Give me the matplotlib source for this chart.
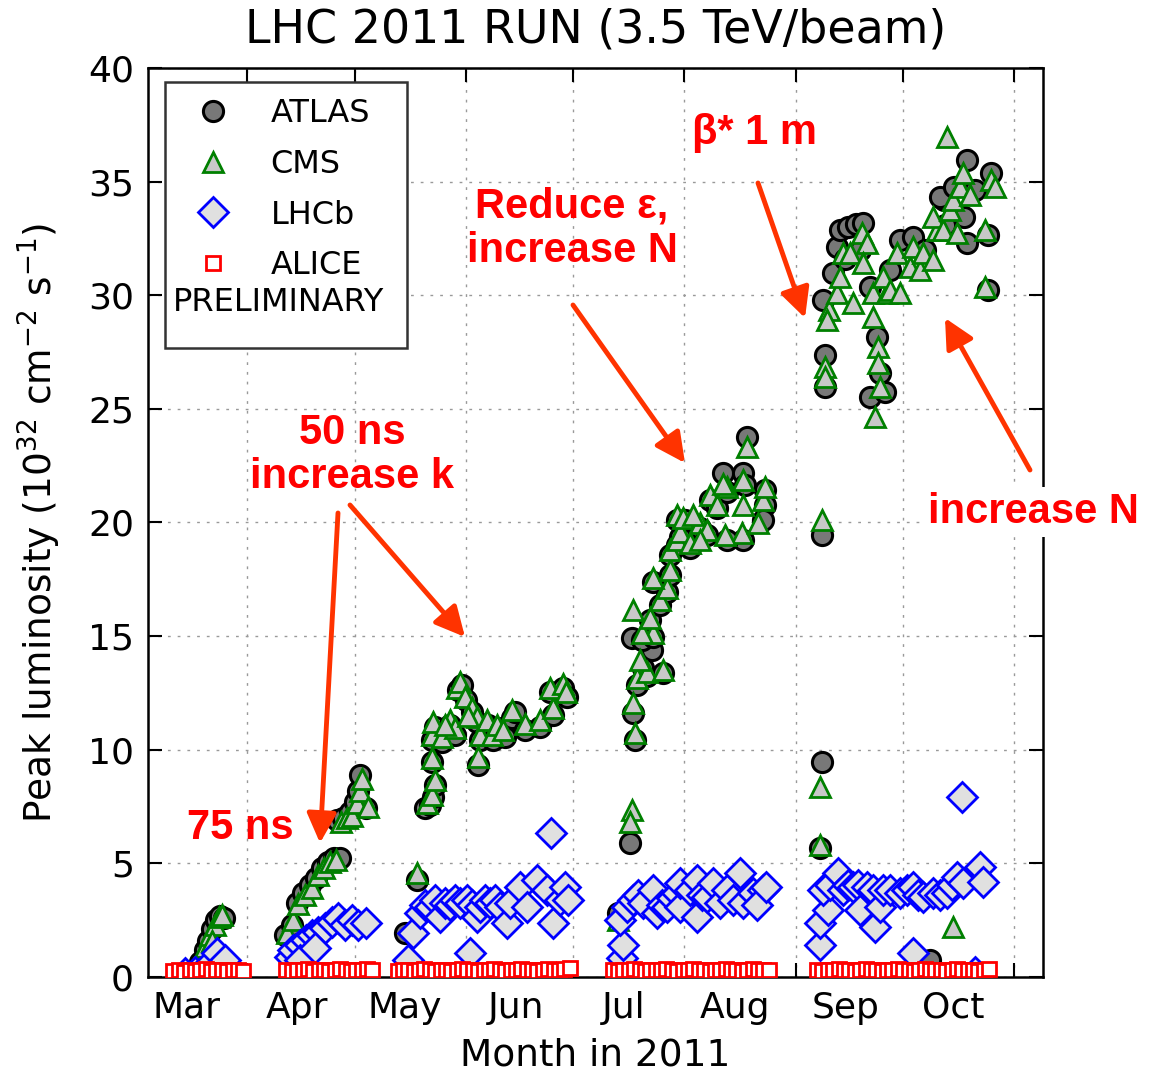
import matplotlib
matplotlib.use('Agg')
import matplotlib.pyplot as plt
from matplotlib.lines import Line2D

# ---------------- data (x = day of year 2011, y = peak luminosity 1e32) ----------
atlas_day = [
    77.9, 79.3, 80.1, 81.2, 82.4, 83.5, 84.6,
    101.6, 103.5, 104.9, 106.6, 108.6, 110.3, 112.0, 113.6, 115.3, 116.9, 116.1, 117.8, 119.7, 121.1, 122.0, 122.5, 124.2,
    135.1, 138.4, 140.6, 142.0, 142.9, 143.4, 142.6, 142.6, 143.4, 145.4, 147.6, 149.0, 149.9, 151.0, 152.1, 153.8,
    155.2, 156.0, 155.4, 158.2, 159.6, 161.0, 162.9, 164.9, 165.7, 168.6, 172.7, 176.4, 175.5, 179.2, 180.3,
    194.5, 197.8, 199.2, 198.6, 199.8, 202.6, 207.1, 201.5, 204.0, 198.3, 201.1, 204.3, 203.4, 206.2, 208.2, 204.3,
    209.0, 209.0, 210.9, 211.8, 210.9, 213.2, 214.6, 217.4, 219.3, 220.1, 222.1, 224.9, 223.8, 229.4, 229.9, 229.4,
    235.5, 235.5, 235.0, 230.5, 224.9,
    281.5, 251.4, 250.8, 251.4, 251.7, 252.3, 252.3, 254.5, 255.6, 256.4, 258.7, 260.9, 262.9, 264.8, 266.8, 267.6,
    264.8, 269.0, 273.2, 276.8, 285.5, 284.4, 288.3, 291.1, 291.9, 291.9, 293.9, 298.4, 297.6, 297.6, 257.8, 262.0,
    270.4, 280.1, 285.7]
atlas_lum = [
    0.66, 1.2, 1.6, 2.1, 2.5, 2.7, 2.6,
    1.85, 2.3, 3.25, 3.7, 4.05, 4.35, 4.8, 5.06, 5.24, 5.24, 6.9, 7.0, 7.26, 7.7, 8.2, 8.9, 7.44,
    1.94, 4.27, 7.44, 7.57, 7.9, 8.45, 9.46, 10.43, 11.0, 10.34, 11.1, 10.65, 12.63, 12.85, 12.19, 11.66,
    11.2, 10.43, 9.33, 11.1, 10.43, 10.96, 10.56, 11.4, 11.66, 10.87, 11.0, 11.53, 12.54, 12.72, 12.32,
    2.82, 5.9, 10.43, 11.62, 12.85, 13.25, 13.38, 13.6, 14.39, 14.92, 14.83, 14.96, 15.7, 16.37, 16.94, 17.38,
    17.69, 18.57, 19.0, 19.36, 20.11, 20.11, 18.88, 19.76, 19.45, 20.99, 20.64, 21.34, 22.18, 22.18, 21.65, 19.23,
    21.43, 20.77, 20.11, 23.76, 19.23,
    0.75, 9.46, 5.68, 19.45, 29.79, 27.37, 25.96, 30.98, 32.12, 32.87, 33.0, 33.14, 33.18, 30.36, 28.16, 26.58,
    25.52, 25.74, 32.43, 32.56, 34.19, 34.32, 34.76, 33.44, 32.3, 35.95, 34.63, 35.38, 32.65, 30.23, 31.6, 32.0,
    31.1, 32.0, 33.1]

cms_day = [
    79.3, 80.7, 82.1, 83.2, 84.0, 81.2,
    102.2, 103.8, 105.2, 107.2, 109.1, 110.8, 112.5, 114.2, 115.8, 117.2, 118.9, 120.3, 121.7, 122.5, 123.1, 124.8,
    138.4, 141.2, 142.6, 143.4, 142.6, 142.6, 142.9, 145.4, 147.6, 149.0,
    149.6, 150.4, 151.8, 153.8, 155.2, 156.0, 155.4, 157.9, 159.3, 160.7,
    162.4, 164.9, 168.6, 172.7, 176.4, 175.5, 179.2, 180.0, 152.6, 146.3,
    194.5, 198.3, 197.8, 199.2, 198.6, 199.8, 202.6, 207.1, 200.6, 204.3,
    201.3, 198.6, 203.4, 206.2, 208.2, 204.3, 209.0, 209.0, 210.9, 211.8,
    210.9, 212.6, 214.6, 217.4, 219.3, 220.1, 222.1, 224.9, 223.8, 229.4,
    229.4, 229.1, 234.9, 233.6, 235.5, 230.5, 224.3, 217.4, 215.4,
    250.8, 250.8, 251.4, 288.0, 253.2, 252.9, 252.3, 252.3, 255.6, 256.4,
    257.3, 259.2, 260.1, 262.6, 264.0, 262.9, 265.6, 265.6, 267.1, 267.1,
    267.6, 266.2, 269.6, 268.4, 270.4, 273.2, 272.3, 276.0, 276.8, 278.7,
    279.6, 282.4, 283.5, 282.4, 285.2, 287.1, 288.0, 289.1, 289.9, 290.8,
    286.3, 298.4, 299.5, 296.9, 296.9, 292.7]
cms_lum = [
    1.3, 1.85, 2.3, 2.65, 2.75, 1.6,
    1.94, 2.5, 3.2, 3.6, 3.9, 4.5, 4.8, 5.06, 5.15, 6.8, 7.0, 7.1, 7.65, 8.2, 8.7, 7.5,
    4.58, 7.66, 8.0, 8.67, 9.64, 10.65, 11.22, 10.56, 11.31, 10.96,
    12.72, 12.98, 12.32, 11.84, 11.44, 10.65, 9.68, 11.31, 10.65, 11.09,
    10.87, 11.75, 11.13, 11.31, 11.84, 12.72, 12.89, 12.54, 11.5, 11.1,
    2.5, 7.35, 6.82, 10.74, 12.06, 13.16, 13.42, 13.5, 13.95, 15.14,
    15.14, 16.15, 15.8, 16.59, 17.12, 17.56, 17.91, 18.79, 19.23, 19.58,
    20.33, 20.2, 19.1, 19.98, 19.67, 21.21, 20.77, 21.56, 21.7, 21.87,
    20.77, 19.54, 20.99, 19.98, 21.56, 23.32, 19.45, 19.23, 20.33,
    8.36, 5.81, 20.11, 2.2, 29.35, 28.9, 26.84, 26.4, 30.1, 30.8,
    31.86, 31.86, 29.66, 32.74, 32.3, 31.42, 29.04, 30.1, 27.72, 27.02,
    25.96, 24.64, 30.1, 30.8, 30.23, 30.1, 31.86, 31.24, 32.12, 31.11,
    31.86, 31.55, 32.87, 33.44, 32.87, 33.75, 34.19, 32.74, 34.76, 35.38,
    36.96, 35.07, 34.76, 32.87, 30.36, 34.41]

lhcb_day = [
    73.7, 76.5, 80.1, 82.6, 84.9,
    103.0, 103.8, 105.8, 107.5, 109.1, 110.8, 112.8, 114.7, 116.4, 118.3, 120.3, 121.9, 124.2, 105.8, 110.0,
    135.9, 137.3, 139.3, 140.6, 142.0, 143.4, 144.8, 146.2, 147.6, 149.0,
    150.4, 152.4, 153.8, 155.2, 156.0, 157.4, 158.8, 160.2, 161.6, 163.5,
    164.4, 167.2, 169.1, 171.9, 174.7, 176.4, 178.3, 179.7, 175.9, 153.2, 180.6,
    195.6, 195.9, 195.0, 196.9, 198.6, 200.0, 201.5, 204.3, 205.4, 206.8,
    208.2, 209.6, 210.9, 211.8, 211.8, 214.6, 216.5, 216.5, 217.9, 219.3,
    221.0, 222.9, 224.9, 226.6, 228.5, 229.4, 232.2, 235.0, 233.3, 235.8,
    250.8, 250.8, 253.0, 251.6, 253.6, 255.8, 257.2, 258.6, 260.0, 261.4,
    262.0, 264.0, 265.6, 266.2, 267.6, 268.4, 270.4, 273.2, 275.1, 276.8,
    276.8, 278.2, 279.6, 282.4, 284.3, 286.3, 287.7, 289.1, 290.8, 290.5,
    295.5, 296.4, 294.1]
lhcb_lum = [
    0.18, 0.22, 0.53, 1.06, 0.75,
    0.88, 1.19, 1.41, 1.63, 1.85, 1.98, 2.16, 2.42, 2.6, 2.29, 2.51, 2.29, 2.38, 0.75, 1.28,
    0.75, 1.94, 2.82, 3.17, 3.08, 3.39, 2.64, 3.26, 3.17, 3.39,
    3.26, 3.39, 3.17, 2.64, 3.08, 3.39, 3.26, 3.39, 3.08, 2.38,
    3.26, 3.96, 3.08, 4.27, 3.83, 2.38, 3.39, 3.96, 6.34, 1.06, 3.39,
    0.84, 1.41, 2.51, 3.08, 3.39, 3.6, 3.26, 3.83, 2.82, 3.17,
    3.08, 3.48, 3.7, 3.08, 4.14, 3.83, 4.27, 2.64, 3.6, 3.52,
    4.14, 3.26, 3.83, 3.39, 4.58, 3.26, 3.7, 3.83, 3.17, 3.96,
    1.41, 2.38, 2.95, 3.83, 4.05, 4.58, 3.83, 4.05, 3.96, 4.05,
    2.95, 3.96, 3.83, 2.2, 3.08, 3.83, 3.83, 3.7, 3.83, 3.96,
    1.06, 3.6, 3.52, 3.7, 3.6, 3.7, 4.05, 4.4, 4.14, 7.92,
    4.84, 4.18, 0.22]

alice_day = [
    70.5, 72, 73.5, 75, 76.5, 78, 79.5, 81, 82.5, 84, 85.5, 87, 88.5, 90,
    102, 103.5, 105, 106.5, 108, 109.5, 111, 112.5, 114, 115.5, 117, 118.5, 120, 121.5, 123, 124.5, 126,
    133, 134.5, 136, 137.5, 139, 140.5, 142, 143.5, 145, 146.5,
    148, 149.5, 151, 152.5, 154, 155.5, 157, 158.5, 160, 161.5,
    163, 164.5, 166, 167.5, 169, 170.5, 172, 173.5, 175, 176.5, 178, 179.5, 181,
    193, 194.5, 196, 197.5, 199, 200.5, 202, 203.5, 205, 206.5,
    208, 209.5, 211, 212.5, 214, 215.5, 217, 218.5, 220, 221.5,
    223, 224.5, 226, 227.5, 229, 230.5, 232, 233.5, 235, 236.5,
    250, 251.5, 253, 254.5, 256, 257.5, 259, 260.5, 262, 263.5,
    265, 266.5, 268, 269.5, 271, 272.5, 274, 275.5, 277, 278.5,
    280, 281.5, 283, 284.5, 286, 287.5, 289, 290.5, 292, 293.5, 295, 296.5, 298]
alice_lum = [
    0.25, 0.3, 0.2, 0.3, 0.25, 0.3, 0.35, 0.25, 0.3, 0.3, 0.25, 0.3, 0.3, 0.25,
    0.3, 0.25, 0.3, 0.3, 0.35, 0.25, 0.3, 0.3, 0.25, 0.3, 0.35, 0.3, 0.25, 0.3, 0.3, 0.35, 0.3,
    0.25, 0.3, 0.3, 0.25, 0.3, 0.35, 0.3, 0.25, 0.3, 0.3,
    0.25, 0.3, 0.35, 0.3, 0.3, 0.25, 0.3, 0.3, 0.35, 0.3,
    0.25, 0.3, 0.3, 0.35, 0.3, 0.3, 0.25, 0.3, 0.35, 0.3, 0.3, 0.35, 0.4,
    0.3, 0.25, 0.3, 0.3, 0.35, 0.3, 0.25, 0.3, 0.3, 0.3,
    0.35, 0.3, 0.25, 0.3, 0.3, 0.35, 0.3, 0.3, 0.25, 0.3,
    0.3, 0.35, 0.3, 0.3, 0.25, 0.3, 0.35, 0.3, 0.3, 0.3,
    0.3, 0.25, 0.3, 0.3, 0.35, 0.3, 0.3, 0.25, 0.3, 0.35,
    0.3, 0.3, 0.25, 0.3, 0.3, 0.35, 0.3, 0.3, 0.25, 0.3,
    0.35, 0.3, 0.3, 0.3, 0.25, 0.3, 0.35, 0.3, 0.3, 0.3, 0.25, 0.3, 0.35]

month_starts = [91, 121, 152, 182, 213, 244, 274, 305]
month_mids = [74, 105, 135, 166, 196, 227, 258, 288]
month_labels = ['Mar', 'Apr', 'May', 'Jun', 'Jul', 'Aug', 'Sep', 'Oct']
y_ticks = [0, 5, 10, 15, 20, 25, 30, 35, 40]

# ---------------- figure ----------------
W, H = 1154, 1073
fig = plt.figure(figsize=(W / 100, H / 100), dpi=100)
ax = fig.add_axes([148 / W, 1 - 977 / H, (1043 - 148) / W, (977 - 68) / H])

h_atlas, = ax.plot(atlas_day, atlas_lum, 'o', ms=14.5, mfc='#787878', mec='black', mew=2.2,
                   ls='none', zorder=3, label='ATLAS')
h_cms, = ax.plot(cms_day, cms_lum, '^', ms=14.5, mfc='#c8c8c8', mec='#008000', mew=2.0,
                 ls='none', zorder=4, label='CMS')
h_lhcb, = ax.plot(lhcb_day, lhcb_lum, 'D', ms=15.5, mfc='#e0e0e0', mec='#0000ff', mew=2.0,
                  ls='none', zorder=5, label='LHCb')
h_alice, = ax.plot(alice_day, alice_lum, 's', ms=10.5, mfc='white', mec='#ff0000', mew=2.0,
                   ls='none', zorder=6, label='ALICE')

ax.set_xlim(63.4, 313.0)
ax.set_ylim(0, 40)
ax.set_xticks(month_starts)
ax.set_xticklabels([])
ax.set_xticks(month_mids, minor=True)
ax.set_xticklabels(month_labels, minor=True)
ax.set_yticks(y_ticks)
ax.tick_params(which='major', direction='in', length=10, width=1.5, top=True, right=True,
               labelsize=26, pad=10)
ax.tick_params(axis='x', which='minor', length=0, labelsize=26, pad=10)
ax.grid(True, which='major', ls=(0, (2, 5)), color='#999999', lw=1.0)
for sp in ax.spines.values():
    sp.set_linewidth(1.8)

ax.set_title('LHC 2011 RUN (3.5 TeV/beam)', fontsize=33, pad=18)
ax.set_xlabel('Month in 2011', fontsize=27)
ax.xaxis.set_label_coords(0.5, -0.067)
ax.set_ylabel('Peak luminosity (10$^{32}$ cm$^{-2}$ s$^{-1}$)', fontsize=27)
ax.yaxis.set_label_coords(-0.095, 0.5)

dummy = Line2D([], [], ls='none', marker=None)
leg = ax.legend(handles=[h_atlas, h_cms, h_lhcb, h_alice, dummy],
                labels=['ATLAS', 'CMS', 'LHCb', 'ALICE', ' '],
                loc='upper left', bbox_to_anchor=(17 / 895, (977 - 82) / 909, 242 / 895, 0),
                mode='expand', borderaxespad=0, fontsize=23, fancybox=False,
                edgecolor='#333333', framealpha=1, labelspacing=0.62, handlelength=2.0,
                handletextpad=0.8, borderpad=0.5, numpoints=1)
leg.get_frame().set_linewidth(1.8)
leg.set_zorder(10)
ax.text((173 - 148) / 895, (977 - 303) / 909, 'PRELIMINARY', fontsize=23, ha='left',
        va='center', transform=ax.transAxes, zorder=11)

# ---------------- annotations ----------------
red = '#ff0000'
arrow_c = '#ff3300'


def fp(px, py):
    return (px / W, 1 - py / H)


afont = dict(family='Liberation Sans', weight='bold', color=red, fontsize=30)
fig.text(*fp(240, 828), '75 ns', ha='center', va='center', **afont)
fig.text(*fp(352, 455), '50 ns\nincrease k', ha='center', va='center', linespacing=1.15, **afont)
fig.text(*fp(572, 229), 'Reduce ε,\nincrease N', ha='center', va='center', linespacing=1.15, **afont)
fig.text(*fp(755, 133), 'β* 1 m', ha='center', va='center', **afont)
fig.text(*fp(1033, 512), 'increase N', ha='center', va='center', zorder=20,
         bbox=dict(facecolor='white', edgecolor='none', pad=4), **afont)

arrows = [((338, 513), (320, 843)), ((350, 505), (465, 637)), ((573, 305), (685, 463)),
          ((758, 183), (805, 318)), ((1030, 470), (945, 318))]
for tail, tip in arrows:
    ax.annotate('', xy=fp(*tip), xytext=fp(*tail), xycoords='figure fraction',
                textcoords='figure fraction',
                arrowprops=dict(arrowstyle='-|>,head_length=0.9,head_width=0.45', color=arrow_c,
                                lw=3.5, mutation_scale=20, shrinkA=0, shrinkB=0),
                zorder=15, annotation_clip=False)

fig.savefig('out.png', dpi=100)
